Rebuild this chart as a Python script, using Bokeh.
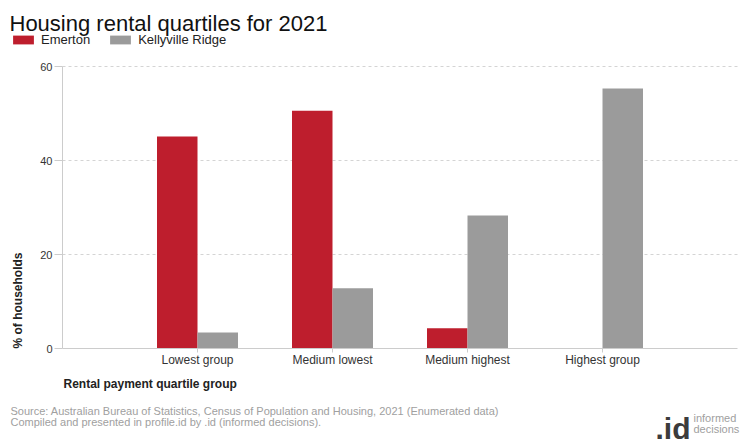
import math
from bokeh.plotting import figure
from bokeh.models import Range1d, Label, Legend, LegendItem, FixedTicker
from bokeh.embed import file_html
from bokeh.resources import INLINE

categories = ["Lowest group", "Medium lowest", "Medium highest", "Highest group"]
emerton = [45.1, 50.6, 4.3, 0.0]
kellyville = [3.4, 12.8, 28.3, 55.3]
series_names = ["Emerton", "Kellyville Ridge"]
y_ticks = [0, 20, 40, 60]

FONT = "Liberation Sans"
RED = "#be1e2d"
GREY = "#9b9b9b"

W, H = 740, 440
# plot area inside the canvas (pixels): left 62, right 737, top 66, bottom 348
PL, PR, PT, PB = 62, 737, 66, 348
NX = len(categories) + 1
YMAX = y_ticks[-1]
xs = (PR - PL) / NX
ys = (PB - PT) / YMAX
p = figure(width=W, height=H,
           x_range=Range1d(-PL / xs, NX + (W - PR) / xs),
           y_range=Range1d(-(H - PB) / ys, YMAX + PT / ys),
           output_backend="svg", toolbar_location=None, title=None,
           min_border_left=0, min_border_right=0, min_border_top=0, min_border_bottom=0)
p.outline_line_color = None
p.xgrid.visible = False
p.ygrid.visible = False

pos = [i + 1 for i in range(len(categories))]
bw = 0.3

# dashed horizontal gridlines across the plot area
gl = y_ticks[1:]
p.segment(x0=[0] * len(gl), x1=[NX] * len(gl), y0=gl, y1=gl,
          line_color="#d4d4d4", line_dash="3 3", line_width=1)

r1 = p.vbar(x=[x - bw / 2 for x in pos], top=emerton, width=bw, fill_color=RED, line_color=None)
r2 = p.vbar(x=[x + bw / 2 for x in pos], top=kellyville, width=bw, fill_color=GREY, line_color=None)

# axes drawn at data zero
xa = p.xaxis[0]
ya = p.yaxis[0]
xa.fixed_location = 0
ya.fixed_location = 0
xa.bounds = (0, NX)
ya.bounds = (0, YMAX)
xa.ticker = FixedTicker(ticks=pos)
xa.major_label_overrides = {x: c for x, c in zip(pos, categories)}
ya.ticker = FixedTicker(ticks=y_ticks)
for ax in (xa, ya):
    ax.axis_line_color = "#cccccc"
    ax.major_tick_line_color = "#cccccc"
    ax.minor_tick_line_color = None
    ax.major_tick_in = 0
    ax.major_label_text_font = FONT
    ax.major_label_text_color = "#333333"
    ax.major_label_text_font_size = "12px"
xa.major_tick_out = 4
xa.major_label_standoff = 0
ya.major_tick_out = 8
ya.major_label_standoff = 2
ya.major_label_text_font_size = "11px"

# legend
legend = Legend(items=[LegendItem(label=series_names[0], renderers=[r1]),
                       LegendItem(label=series_names[1], renderers=[r2])],
                orientation="horizontal", location=(10, H - 36 - 11),
                margin=0, padding=0, border_line_color=None, background_fill_alpha=0,
                glyph_width=26, glyph_height=11, label_standoff=5, spacing=17,
                label_height=11, label_text_font=FONT, label_text_font_size="13px",
                label_text_color="#222222")
p.add_layout(legend, "center")

def lab(text, x, y, size, color="#333333", bold=False, align="left", baseline="alphabetic",
        angle=0.0, font=FONT):
    # x, y: canvas pixels from the top-left (frame spans the canvas)
    p.add_layout(Label(x=x, y=H - y, x_units="screen", y_units="screen", text=text,
                       text_font=font, text_font_size=size, text_color=color,
                       text_font_style="bold" if bold else "normal", text_align=align,
                       text_baseline=baseline, angle=angle))

lab("Housing rental quartiles for 2021", 9, 23, "22px", color="#111111")
lab("% of households", 17, 300, "12px", bold=True, align="center", baseline="middle",
    angle=math.pi / 2, color="#222222")
lab("Rental payment quartile group", 63, 383, "12px", bold=True, baseline="middle", color="#222222")
lab("Source: Australian Bureau of Statistics, Census of Population and Housing, 2021 (Enumerated data)",
    10, 410, "11px", color="#a0a0a0")
lab("Compiled and presented in profile.id by .id (informed decisions).", 10, 421, "11px", color="#a0a0a0")
lab(".id", 655, 428, "30px", bold=True, color="#3c3c3c")
lab("informed", 693, 417, "11px", color="#a0a0a0")
lab("decisions", 693, 428, "11px", color="#a0a0a0")

open("out.html", "w").write(file_html(p, INLINE))
